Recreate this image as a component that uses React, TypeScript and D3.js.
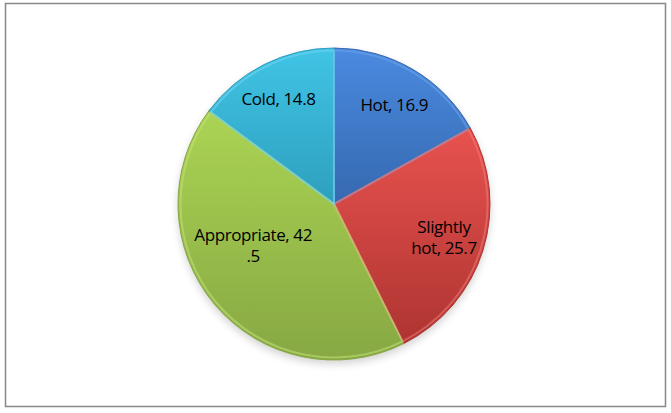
import React from "react";
import * as d3 from "d3";

const categories = ["Hot", "Slightly hot", "Appropriate", "Cold"];
const values = [16.9, 25.7, 42.5, 14.8];
const labelLines = [["Hot, 16.9"], ["Slightly", "hot, 25.7"], ["Appropriate, 42", ".5"], ["Cold, 14.8"]];
const colorsTop = ["#4a8ae0", "#e8524f", "#abd453", "#40c4e6"];
const colorsBottom = ["#3669b0", "#ae3431", "#87a843", "#2e9fbd"];
const edgeColors = ["#6fa4ea", "#f07a76", "#c3e27a", "#74d6f0"];

const W = 671;
const H = 413;
const cx = 334;
const cy = 204;
const R = 156;
const labelRadius = [115, 113, 95, 117];
const labelShift = [[2, 0], [2, 0], [-8, -19], [-3, 0]];

export default function App() {
  const data = categories.map((c, i) => ({ c, v: values[i], i }));
  const pie = d3.pie<any>().value((d) => d.v).sort(null);
  const arcs = pie(data);
  const arc = d3.arc<any>().innerRadius(0).outerRadius(R);
  return (
    <svg width={W} height={H} style={{ position: "absolute", left: 0, top: 0 }}>
      <defs>
        {data.map((d, i) => (
          <linearGradient key={i} id={`g${i}`} x1="0" y1="0" x2="0" y2="1">
            <stop offset="0%" stopColor={colorsTop[i]} />
            <stop offset="100%" stopColor={colorsBottom[i]} />
          </linearGradient>
        ))}
        <filter id="shadow" x="-20%" y="-20%" width="140%" height="140%">
          <feGaussianBlur stdDeviation="4" />
        </filter>
      </defs>
      <rect x={5.5} y={3.5} width={660} height={403} fill="#fff" stroke="#878787" strokeWidth={1.5} />
      <ellipse cx={cx} cy={cy + 4} rx={R} ry={R} fill="#000" opacity={0.18} filter="url(#shadow)" />
      <g transform={`translate(${cx},${cy})`}>
        {arcs.map((a, i) => (
          <path key={i} d={arc(a) || ""} fill={`url(#g${i})`} stroke={colorsBottom[i]} strokeWidth={1} />
        ))}
        {arcs.map((a, i) => (
          <path
            key={"e" + i}
            d={d3.arc<any>().innerRadius(0).outerRadius(R - 2.5)(a) || ""}
            fill="none"
            stroke={edgeColors[i]}
            strokeWidth={2}
            opacity={0.55}
          />
        ))}
        {arcs.map((a, i) => {
          const mid = (a.startAngle + a.endAngle) / 2;
          const lr = labelRadius[i];
          const x = Math.sin(mid) * lr + labelShift[i][0];
          const y = -Math.cos(mid) * lr + labelShift[i][1];
          const lines = labelLines[i];
          const lh = 21;
          const y0 = y - ((lines.length - 1) * lh) / 2 + 6;
          return (
            <text
              key={"t" + i}
              x={x}
              y={y0}
              textAnchor="middle"
              fontFamily="'Open Sans', 'Noto Sans', sans-serif"
              fontSize={17}
              fill="#000"
              style={{ letterSpacing: "-0.4px" }}
            >
              {lines.map((l, j) => (
                <tspan key={j} x={x} dy={j === 0 ? 0 : lh}>
                  {l}
                </tspan>
              ))}
            </text>
          );
        })}
      </g>
    </svg>
  );
}
